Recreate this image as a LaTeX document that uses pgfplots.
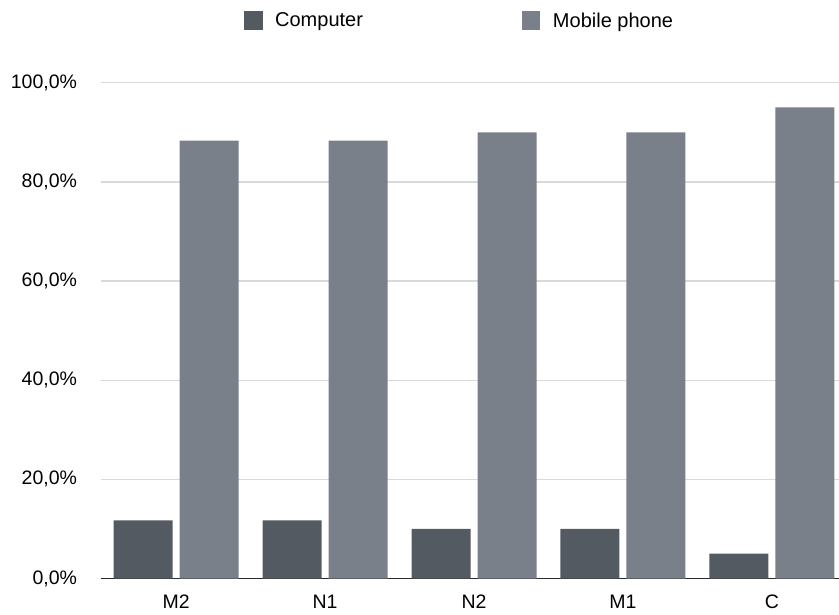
\documentclass[border=0pt]{standalone}
\usepackage{pgfplots}
\pgfplotsset{compat=1.18}
\usepackage{fontspec}
\setmainfont{Liberation Sans}

\definecolor{compcol}{HTML}{545A62}
\definecolor{mobcol}{HTML}{7A8089}
\definecolor{gridcol}{HTML}{D9D9D9}
\definecolor{axiscol}{HTML}{2B2B2B}

\begin{document}
\begin{tikzpicture}[x=1pt,y=1pt]
\path[use as bounding box] (0,0) rectangle (839,614);
\begin{axis}[
    at={(100.7pt,35.5pt)}, anchor=south west,
    scale only axis,
    width=738.3pt, height=495.8pt,
    ybar=7pt, bar width=59pt,
    xmin=-0.507, xmax=4.451,
    ymin=0, ymax=100,
    xtick=data,
    xticklabels={M2,N1,N2,M1,C},
    ytick={0,20,40,60,80,100},
    yticklabels={{0,0\%},{20,0\%},{40,0\%},{60,0\%},{80,0\%},{100,0\%}},
    major tick length=0pt,
    axis x line*=bottom,
    axis y line*=left,
    y axis line style={draw=none},
    x axis line style={draw=axiscol, line width=1.8pt, -},
    ymajorgrids,
    grid style={draw=gridcol, line width=1.3pt},
    tick label style={font=\fontsize{19.5}{22}\selectfont, text=black},
    yticklabel style={anchor=east, inner sep=0pt, xshift=-23.5pt},
    xticklabel style={anchor=north, inner sep=0pt, yshift=-16.5pt},
    legend columns=2,
    legend style={
        at={(0.4846,1.125)}, anchor=center,
        draw=none, fill=none,
        font=\fontsize{20}{24}\selectfont,
        nodes={inner sep=0pt},
        /tikz/every odd column/.append style={column sep=12.6pt},
        /tikz/every even column/.append style={column sep=158.7pt},
    },
    legend image code/.code={
        \fill[#1] (0pt,-9.3pt) rectangle (18.7pt,9.3pt);
    },
]
\addplot[fill=compcol, draw=none] coordinates
    {(0,11.7) (1,11.7) (2,10.0) (3,10.0) (4,5.0)};
\addplot[fill=mobcol, draw=none] coordinates
    {(0,88.3) (1,88.3) (2,90.0) (3,90.0) (4,95.0)};
\legend{Computer, Mobile phone}
\end{axis}
\end{tikzpicture}
\end{document}
